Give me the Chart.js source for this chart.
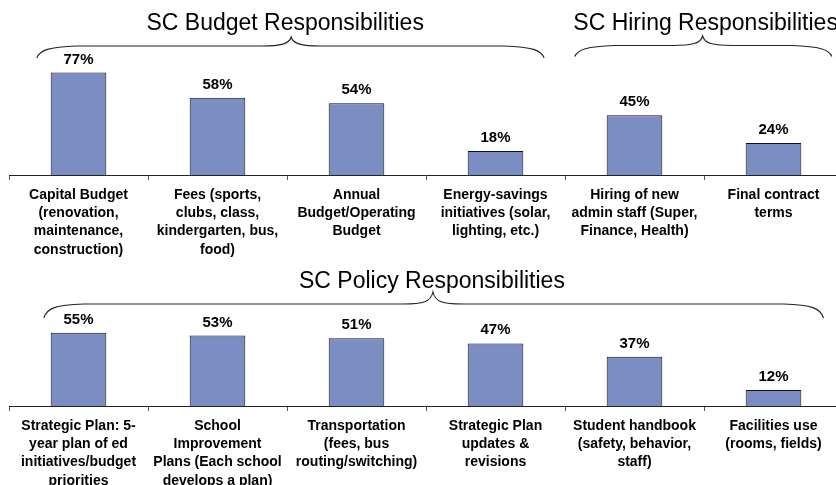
<!DOCTYPE html>
<html>
<head>
<meta charset="utf-8">
<script src="https://cdn.jsdelivr.net/npm/chart.js@4.4.0/dist/chart.umd.min.js"></script>
<style>
  html, body { margin: 0; padding: 0; background: #fff; overflow: hidden; }
  #wrap { position: relative; width: 836px; height: 485px; overflow: hidden; }
  canvas { position: absolute; left: 0; top: 0; }
</style>
</head>
<body>
<div id="wrap">
  <canvas id="budgetChart" width="850" height="485"></canvas>
  <canvas id="policyChart" width="850" height="485"></canvas>
</div>
<script>
// budget + hiring row
var topCategories = [
  ["Capital Budget", "(renovation,", "maintenance,", "construction)"],
  ["Fees (sports,", "clubs, class,", "kindergarten, bus,", "food)"],
  ["Annual", "Budget/Operating", "Budget"],
  ["Energy-savings", "initiatives (solar,", "lighting, etc.)"],
  ["Hiring of new", "admin staff (Super,", "Finance, Health)"],
  ["Final contract", "terms"]
];
var topValues = [77, 58, 54, 18, 45, 24];
var topGroups = ["SC Budget Responsibilities", "SC Hiring Responsibilities"];

// policy row
var bottomCategories = [
  ["Strategic Plan: 5-", "year plan of ed", "initiatives/budget", "priorities"],
  ["School", "Improvement", "Plans (Each school", "develops a plan)"],
  ["Transportation", "(fees, bus", "routing/switching)"],
  ["Strategic Plan", "updates &", "revisions"],
  ["Student handbook", "(safety, behavior,", "staff)"],
  ["Facilities use", "(rooms, fields)"]
];
var bottomValues = [55, 53, 51, 47, 37, 12];
var bottomGroups = ["SC Policy Responsibilities"];

var FONT = '"Liberation Sans", Arial, sans-serif';
var barColor = "#7b8ec3";

// percentage above each bar
var valueLabels = {
  id: "valueLabels",
  afterDatasetsDraw: function (chart) {
    var ctx = chart.ctx;
    var ds = chart.data.datasets[0];
    ctx.save();
    ctx.font = "bold 15px " + FONT;
    ctx.fillStyle = "#000";
    ctx.textAlign = "center";
    ctx.textBaseline = "alphabetic";
    chart.getDatasetMeta(0).data.forEach(function (bar, i) {
      ctx.fillText(ds.data[i] + "%", bar.x, bar.y - 9);
    });
    ctx.restore();
  }
};

// curly brace with a heading over a run of categories
var groupBraces = {
  id: "groupBraces",
  afterDraw: function (chart, args, opts) {
    var ctx = chart.ctx;
    var xs = chart.scales.x;
    ctx.save();
    opts.items.forEach(function (b) {
      var x1 = xs.getPixelForValue(b.from);
      var x2 = xs.getPixelForValue(b.to);
      var xm = xs.getPixelForValue(b.tip);
      var yl = b.line, ye = b.end, yt = b.top;

      ctx.beginPath();
      ctx.strokeStyle = "#222";
      ctx.lineWidth = 1.1;
      ctx.moveTo(x1, ye);
      ctx.bezierCurveTo(x1 + 3, yl + 3, x1 + 12, yl, x1 + 40, yl - 1);
      ctx.lineTo(xm - 30, yl - 1);
      ctx.bezierCurveTo(xm - 10, yl - 1, xm - 2, yl - 3, xm, yt);
      ctx.bezierCurveTo(xm + 2, yl - 3, xm + 10, yl - 1, xm + 30, yl - 1);
      ctx.lineTo(x2 - 40, yl - 1);
      ctx.bezierCurveTo(x2 - 12, yl, x2 - 3, yl + 3, x2, ye);
      ctx.stroke();

      ctx.font = "23px " + FONT;
      ctx.fillStyle = "#000";
      ctx.textAlign = "center";
      ctx.textBaseline = "alphabetic";
      ctx.fillText(b.title, xm + (b.dx || 0), yl - 17);
    });
    ctx.restore();
  }
};

function makeRow(id, categories, values, top, axisHeight, braces) {
  return new Chart(id, {
    type: "bar",
    data: {
      labels: categories,
      datasets: [{
        data: values,
        backgroundColor: barColor,
        borderColor: "#111",
        borderWidth: 1,
        barPercentage: 0.4,
        categoryPercentage: 1
      }]
    },
    options: {
      responsive: false,
      animation: false,
      layout: { padding: { top: top, left: 9, right: 7, bottom: 0 } },
      plugins: {
        legend: { display: false },
        tooltip: { enabled: false },
        groupBraces: { items: braces }
      },
      scales: {
        x: {
          grid: { drawOnChartArea: false, drawTicks: true, tickLength: 5, color: "#555", offset: true },
          border: { display: true, color: "#222", width: 1 },
          ticks: {
            color: "#000",
            padding: 6,
            maxRotation: 0,
            autoSkip: false,
            font: { family: FONT, size: 14, weight: "bold", lineHeight: 1.3 }
          },
          afterFit: function (scale) { scale.height = axisHeight; }
        },
        y: { display: false, min: 0, max: 100 }
      }
    },
    plugins: [valueLabels, groupBraces]
  });
}

makeRow("budgetChart", topCategories, topValues, 42, 310, [
  { title: topGroups[0], from: -0.3, tip: 1.53, to: 3.35, line: 47, end: 58, top: 37, dx: -6 },
  { title: topGroups[1], from: 3.57, tip: 4.49, to: 5.42, line: 46.5, end: 56.5, top: 36, dx: 3 }
]);

makeRow("policyChart", bottomCategories, bottomValues, 273, 79, [
  { title: bottomGroups[0], from: -0.25, tip: 2.55, to: 5.36, line: 305, end: 318, top: 292, dx: -1 }
]);
</script>
</body>
</html>
